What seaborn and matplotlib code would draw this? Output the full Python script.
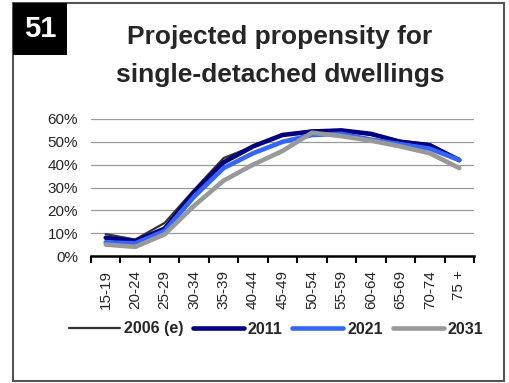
import pandas as pd
import numpy as np
import matplotlib.pyplot as plt
import matplotlib.patches as mpatches
import seaborn as sns

# age groups and projected propensity (%) per year
age_groups = ['15-19', '20-24', '25-29', '30-34', '35-39', '40-44', '45-49',
              '50-54', '55-59', '60-64', '65-69', '70-74', '75 +']
y2006 = [9.6, 7.2, 14.5, 29.0, 42.9, 48.0, 53.0, 55.0, 55.2, 53.0, 50.5, 49.0, 42.0]
y2011 = [8.0, 6.5, 12.0, 28.0, 41.0, 48.0, 53.0, 54.5, 55.0, 53.5, 50.0, 48.5, 42.0]
y2021 = [6.0, 5.5, 11.0, 26.0, 38.5, 45.0, 50.0, 53.0, 53.5, 51.0, 49.0, 47.0, 42.0]
y2031 = [5.0, 4.0, 9.5, 22.0, 33.0, 40.0, 46.0, 54.0, 52.5, 50.5, 48.0, 45.0, 38.5]
series_names = ['2006 (e)', '2011', '2021', '2031']

frames = []
for name, vals in zip(series_names, [y2006, y2011, y2021, y2031]):
    frames.append(pd.DataFrame({'pos': np.arange(len(age_groups)),
                                'value': np.array(vals) / 100.0,
                                'series': name}))
df = pd.concat(frames, ignore_index=True)

sns.set_theme(style="white")
plt.rcParams['font.family'] = ['Liberation Sans', 'DejaVu Sans']

fig = plt.figure(figsize=(5.09, 3.83), dpi=100)
ax = fig.add_axes([91/509, 1 - 256/383, (474-91)/509, (256-119)/383])

palette = {'2006 (e)': '#333333', '2011': '#000080', '2021': '#3366FF', '2031': '#999999'}
widths = {'2006 (e)': 1.6, '2011': 3.3, '2021': 3.3, '2031': 3.3}

for name in series_names:
    sub = df[df['series'] == name]
    sns.lineplot(data=sub, x='pos', y='value', color=palette[name],
                 linewidth=widths[name], ax=ax, label=name,
                 solid_capstyle='round', solid_joinstyle='round')

ax.set_xlim(-0.5, len(age_groups) - 0.5)
ax.set_ylim(0, 0.6)
ax.set_yticks(np.arange(0, 0.61, 0.1))
ax.set_yticklabels([f'{int(round(v*100))}%' for v in np.arange(0, 0.61, 0.1)], fontsize=11)
ax.yaxis.grid(True, color='#999999', linewidth=0.9)
ax.set_axisbelow(True)
ax.set_xticks(np.arange(len(age_groups)))
ax.set_xticklabels(age_groups, rotation=90, fontsize=11)
ax.set_xticks(np.arange(-0.5, len(age_groups)), minor=True)
ax.tick_params(axis='x', which='major', length=0, pad=10)
ax.tick_params(axis='x', which='minor', bottom=True, length=5, width=1.5, color='black', direction='out')
ax.tick_params(axis='y', length=0, pad=9.4)
ax.set_xlabel('')
ax.set_ylabel('')
for s in ['top', 'right', 'left']:
    ax.spines[s].set_visible(False)
ax.spines['bottom'].set_color('black')
ax.spines['bottom'].set_linewidth(1.8)

ax.legend_.remove()
handles, labels = ax.get_legend_handles_labels()
fig.legend(handles, labels, loc='center', bbox_to_anchor=(276/509, 1 - 329/383),
           ncol=4, frameon=False, handlelength=3.2, handletextpad=0.25,
           columnspacing=0.6, prop={'weight': 'bold', 'size': 11.5})

# outer border and number box
fig.patches.append(mpatches.Rectangle((13/509, 1 - 381/383), (504-13)/509, (381-3)/383,
                                      transform=fig.transFigure, fill=False,
                                      edgecolor='#555555', linewidth=1.5))
fig.patches.append(mpatches.Rectangle((13/509, 1 - 55/383), (67-13)/509, (55-3)/383,
                                      transform=fig.transFigure, facecolor='black',
                                      edgecolor='none'))
fig.text(40/509, 1 - 29/383, '51', color='white', fontsize=21, fontweight='bold',
         ha='center', va='center')
fig.text(280/509, 1 - 37/383, 'Projected propensity for',
         fontsize=19, fontweight='bold', ha='center', va='center')
fig.text(280/509, 1 - 75/383, 'single-detached dwellings',
         fontsize=19, fontweight='bold', ha='center', va='center')

plt.savefig('out.png', dpi=100)
